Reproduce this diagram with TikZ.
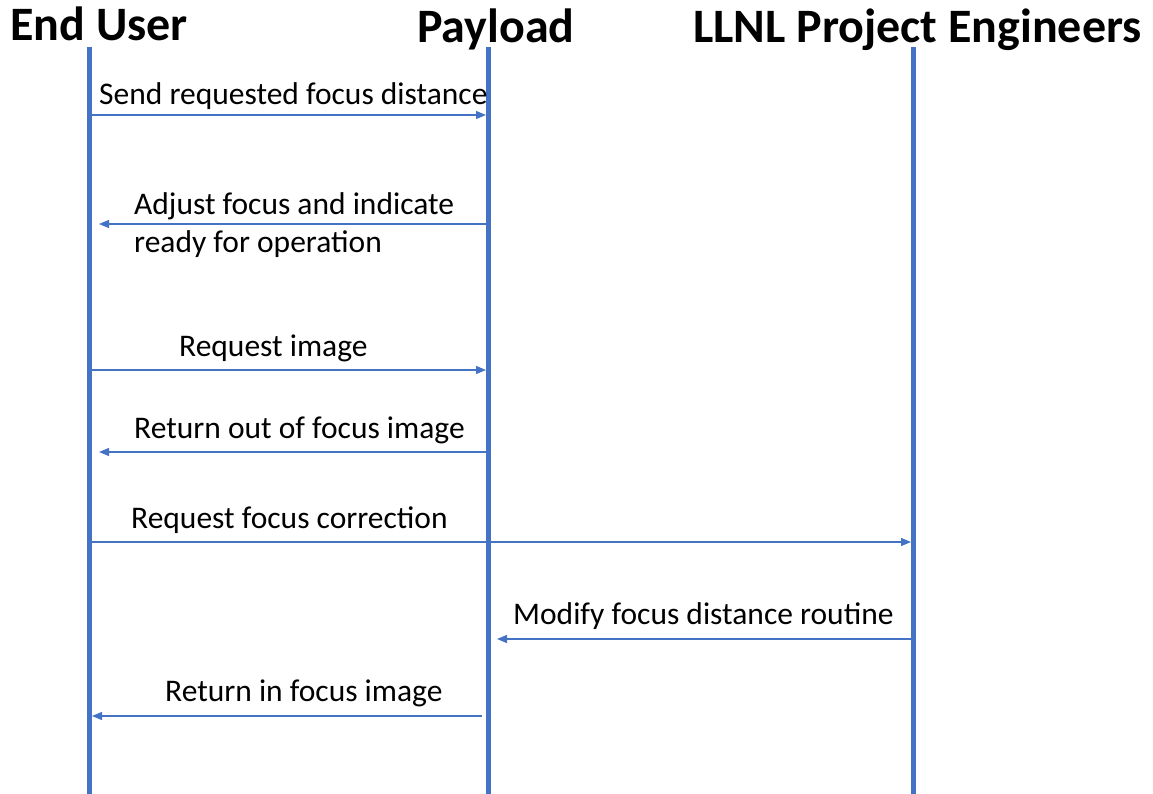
\documentclass[tikz,border=0pt]{standalone}
\usepackage{fontspec}
\setmainfont{Carlito}
\usetikzlibrary{arrows.meta}
\definecolor{lineblue}{HTML}{4472C4}
\begin{document}
\begin{tikzpicture}[x=1pt,y=-1pt,
  lifeline/.style={draw=lineblue,line width=5pt},
  msg/.style={draw=lineblue,line width=1.2pt,-{Triangle[length=10pt,width=8pt]}},
  actor/.style={font=\fontsize{48}{56}\selectfont\bfseries,inner sep=0pt,anchor=base west},
  msglabel/.style={font=\fontsize{31.5}{38}\selectfont,inner sep=0pt,anchor=base west,align=left},
]
\useasboundingbox (0,0) rectangle (1153,794);

% actors
\node[actor] (user) at (10,41) {End User};
\node[actor] (payload) at (417,43) {Payload};
\node[actor] (llnl) at (693,43) {LLNL Project Engineers};

% lifelines
\coordinate (user-top) at (89,47);   \coordinate (user-bot) at (89,794);
\coordinate (pay-top) at (488,47);   \coordinate (pay-bot) at (488,794);
\coordinate (llnl-top) at (913,47);  \coordinate (llnl-bot) at (913,794);
\draw[lifeline] (user-top) -- (user-bot);
\draw[lifeline] (pay-top) -- (pay-bot);
\draw[lifeline] (llnl-top) -- (llnl-bot);

% message end points
\coordinate (m1a) at (91,115);  \coordinate (m1b) at (486,115);
\coordinate (m2a) at (486,224); \coordinate (m2b) at (99,224);
\coordinate (m3a) at (91,370);  \coordinate (m3b) at (486,370);
\coordinate (m4a) at (486,452); \coordinate (m4b) at (99,452);
\coordinate (m5a) at (91,542);  \coordinate (m5b) at (911,542);
\coordinate (m6a) at (911,639); \coordinate (m6b) at (497,639);
\coordinate (m7a) at (482,716); \coordinate (m7b) at (92,716);

% messages
\draw[msg] (m1a) -- (m1b);
\draw[msg] (m2a) -- (m2b);
\draw[msg] (m3a) -- (m3b);
\draw[msg] (m4a) -- (m4b);
\draw[msg] (m5a) -- (m5b);
\draw[msg] (m6a) -- (m6b);
\draw[msg] (m7a) -- (m7b);

% message labels (a two-line label sits on the baseline of its last line)
\node[msglabel] (l1) at (99,105) {Send requested focus distance};
\node[msglabel] (l2) at (134,252.5) {Adjust focus and indicate\\ready for operation};
\node[msglabel] (l3) at (179,356.5) {Request image};
\node[msglabel] (l4) at (134,438) {Return out of focus image};
\node[msglabel] (l5) at (131,528) {Request focus correction};
\node[msglabel] (l6) at (513,624.5) {Modify focus distance routine};
\node[msglabel] (l7) at (165,701.5) {Return in focus image};
\end{tikzpicture}
\end{document}
